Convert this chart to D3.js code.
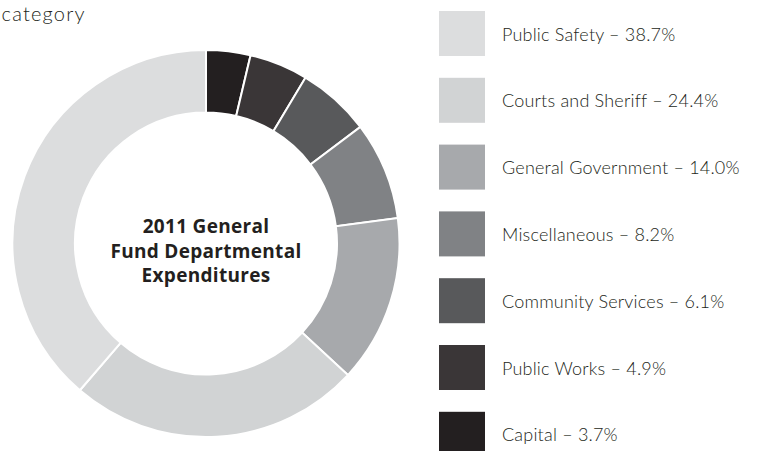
<!DOCTYPE html>
<html>
<head>
<meta charset="utf-8">
<script src="https://cdn.jsdelivr.net/npm/d3@7"></script>
<style>
  html, body { margin: 0; padding: 0; background: #fff; }
  svg { display: block; }
</style>
</head>
<body>
<svg id="chart" width="757" height="451"></svg>
<script>
// General fund departmental expenditures, share by category (legend order)
const categories = [
  "Public Safety",
  "Courts and Sheriff",
  "General Government",
  "Miscellaneous",
  "Community Services",
  "Public Works",
  "Capital"
];
const shares = [38.7, 24.4, 14.0, 8.2, 6.1, 4.9, 3.7];
const shades = ["#dcddde", "#d1d3d4", "#a7a9ac", "#808285", "#58595b", "#3a3637", "#231f20"];
const centerTitle = ["2011 General", "Fund Departmental", "Expenditures"];

const svg = d3.select("#chart");

// heading fragment at the top left
svg.append("text")
  .attr("x", 1.5).attr("y", 21)
  .attr("font-family", "Lato, 'Open Sans', sans-serif")
  .attr("font-weight", 300)
  .attr("font-size", 20)
  .attr("letter-spacing", 1.2)
  .attr("fill", "#231f20")
  .text("category");

// donut
const cx = 206, cy = 243.5, outerR = 193.5, innerR = 131;
const rows = categories.map((c, i) => ({ name: c, value: shares[i], color: shades[i] }));

const pie = d3.pie().sort(null).value(d => d.value);
const arc = d3.arc().innerRadius(innerR).outerRadius(outerR);

const g = svg.append("g").attr("transform", `translate(${cx},${cy})`);
g.selectAll("path")
  .data(pie(rows.slice().reverse()))
  .join("path")
  .attr("d", arc)
  .attr("fill", d => d.data.color)
  .attr("stroke", "#fff")
  .attr("stroke-width", 2)
  .attr("stroke-linejoin", "miter");

g.append("text")
  .attr("text-anchor", "middle")
  .attr("font-family", "'Open Sans', Lato, sans-serif")
  .attr("font-weight", 700)
  .attr("font-size", 19)
  .attr("letter-spacing", 0.3)
  .attr("fill", "#231f20")
  .selectAll("tspan")
  .data(centerTitle)
  .join("tspan")
  .attr("x", 0)
  .attr("y", (d, i) => -10.5 + i * 24.5)
  .text(d => d);

// legend
const legendY = d3.scaleLinear().domain([0, categories.length - 1]).range([11, 411.8]);
const legend = svg.append("g");
const item = legend.selectAll("g")
  .data(rows)
  .join("g")
  .attr("transform", (d, i) => `translate(439,${legendY(i)})`);

item.append("rect")
  .attr("width", 46).attr("height", 45)
  .attr("fill", d => d.color);

item.append("text")
  .attr("x", 63).attr("y", 29.5)
  .attr("font-family", "Lato, 'Open Sans', sans-serif")
  .attr("font-weight", 300)
  .attr("font-size", 18)
  .attr("letter-spacing", 0.2)
  .attr("fill", "#231f20")
  .text(d => `${d.name} \u2013 ${d.value.toFixed(1)}%`);
</script>
</body>
</html>
